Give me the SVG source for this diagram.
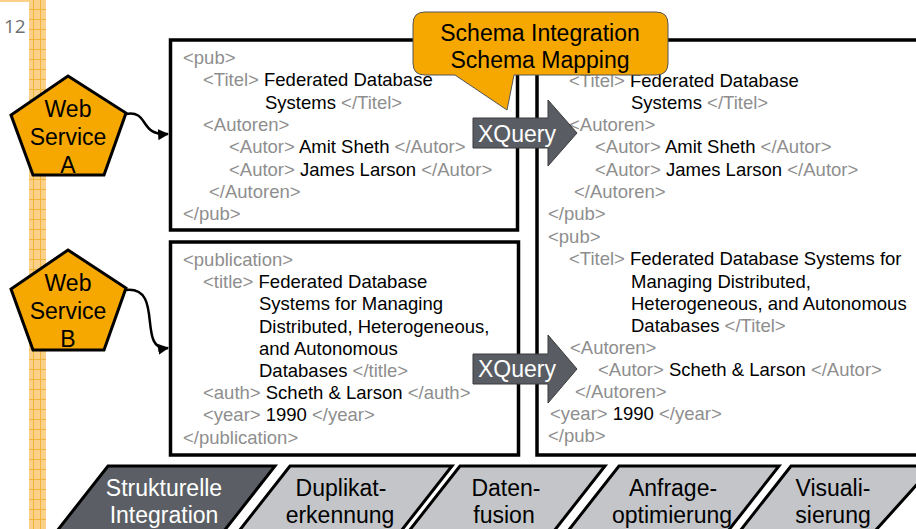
<svg xmlns="http://www.w3.org/2000/svg" width="916" height="529" viewBox="0 0 916 529">
  <defs>
    <style>
      .t { font-family: "Liberation Sans", Arial, sans-serif; font-size: 18.5px; fill: #000; }
      .g { fill: #8e8e8e; }
      .big { font-family: "Liberation Sans", Arial, sans-serif; font-size: 23px; text-anchor: middle; }
      .box { fill: #fff; stroke: #000; stroke-width: 3.5; }
      .penta { fill: #f6a800; stroke: #000; stroke-width: 3; stroke-linejoin: miter; }
      .xq { fill: #595d63; stroke: #3a3a3a; stroke-width: 1; }
      .xqt { fill: #fff; }
      .step { stroke: #000; stroke-width: 3; }
      .step-on { fill: #5b5f65; }
      .step-off { fill: #c3c5c9; }
      .wire { fill: none; stroke: #000; stroke-width: 2.5; }
    </style>
    <pattern id="grid" x="29" y="0" width="17" height="10" patternUnits="userSpaceOnUse">
      <rect width="17" height="10" fill="#fbd189"/>
      <path d="M0,9.5 H17 M4.5,0 V10 M11.5,0 V10" stroke="#f3b43c" stroke-width="1"/>
    </pattern>
    <marker id="head" viewBox="0 0 10 10" refX="9" refY="5" markerWidth="11" markerHeight="11" markerUnits="userSpaceOnUse" orient="auto">
      <path d="M0,0 L10,5 L0,10 Z" fill="#000"/>
    </marker>
  </defs>

  <!-- page margin strip and slide number -->
  <rect x="0" y="0" width="916" height="529" fill="#fff"/>
  <rect x="29" y="0" width="17" height="529" fill="url(#grid)"/>
  <rect x="0" y="0" width="29" height="2" fill="#fbd189"/>
  <text x="4" y="33" style="font-family:'Open Sans',sans-serif;font-size:19px;fill:#707070">12</text>

  <!-- source document A -->
  <g id="docA">
    <rect class="box" x="170.5" y="40" width="347" height="190"/>
    <text class="t" x="183" y="64"><tspan class="g">&lt;pub&gt;</tspan></text>
    <text class="t" x="203" y="86"><tspan class="g">&lt;Titel&gt;</tspan> Federated Database</text>
    <text class="t" x="265" y="109">Systems <tspan class="g">&lt;/Titel&gt;</tspan></text>
    <text class="t" x="203" y="131"><tspan class="g">&lt;Autoren&gt;</tspan></text>
    <text class="t" x="229" y="153"><tspan class="g">&lt;Autor&gt;</tspan> Amit Sheth <tspan class="g">&lt;/Autor&gt;</tspan></text>
    <text class="t" x="229" y="176"><tspan class="g">&lt;Autor&gt;</tspan> James Larson <tspan class="g">&lt;/Autor&gt;</tspan></text>
    <text class="t" x="209" y="198"><tspan class="g">&lt;/Autoren&gt;</tspan></text>
    <text class="t" x="183" y="220"><tspan class="g">&lt;/pub&gt;</tspan></text>
  </g>

  <!-- source document B -->
  <g id="docB">
    <rect class="box" x="170.5" y="242" width="348" height="213"/>
    <text class="t" x="183" y="266"><tspan class="g">&lt;publication&gt;</tspan></text>
    <text class="t" x="203" y="288"><tspan class="g">&lt;title&gt;</tspan> Federated Database</text>
    <text class="t" x="259" y="310">Systems for Managing</text>
    <text class="t" x="259" y="333">Distributed, Heterogeneous,</text>
    <text class="t" x="259" y="355">and Autonomous</text>
    <text class="t" x="259" y="377">Databases <tspan class="g">&lt;/title&gt;</tspan></text>
    <text class="t" x="203" y="399"><tspan class="g">&lt;auth&gt;</tspan> Scheth &amp; Larson <tspan class="g">&lt;/auth&gt;</tspan></text>
    <text class="t" x="203" y="421"><tspan class="g">&lt;year&gt;</tspan> 1990 <tspan class="g">&lt;/year&gt;</tspan></text>
    <text class="t" x="183" y="444"><tspan class="g">&lt;/publication&gt;</tspan></text>
  </g>

  <!-- integrated result document -->
  <g id="result">
    <rect class="box" x="537" y="40" width="400" height="415"/>
    <text class="t" x="569" y="87"><tspan class="g">&lt;Titel&gt;</tspan> Federated Database</text>
    <text class="t" x="631" y="109">Systems <tspan class="g">&lt;/Titel&gt;</tspan></text>
    <text class="t" x="569" y="131"><tspan class="g">&lt;Autoren&gt;</tspan></text>
    <text class="t" x="595" y="153"><tspan class="g">&lt;Autor&gt;</tspan> Amit Sheth <tspan class="g">&lt;/Autor&gt;</tspan></text>
    <text class="t" x="595" y="176"><tspan class="g">&lt;Autor&gt;</tspan> James Larson <tspan class="g">&lt;/Autor&gt;</tspan></text>
    <text class="t" x="574" y="198"><tspan class="g">&lt;/Autoren&gt;</tspan></text>
    <text class="t" x="548" y="220"><tspan class="g">&lt;/pub&gt;</tspan></text>
    <text class="t" x="548" y="243"><tspan class="g">&lt;pub&gt;</tspan></text>
    <text class="t" x="569" y="265"><tspan class="g">&lt;Titel&gt;</tspan> Federated Database Systems for</text>
    <text class="t" x="631" y="288">Managing Distributed,</text>
    <text class="t" x="631" y="310">Heterogeneous, and Autonomous</text>
    <text class="t" x="631" y="332">Databases <tspan class="g">&lt;/Titel&gt;</tspan></text>
    <text class="t" x="570" y="354"><tspan class="g">&lt;Autoren&gt;</tspan></text>
    <text class="t" x="598" y="376"><tspan class="g">&lt;Autor&gt;</tspan> Scheth &amp; Larson <tspan class="g">&lt;/Autor&gt;</tspan></text>
    <text class="t" x="575" y="398"><tspan class="g">&lt;/Autoren&gt;</tspan></text>
    <text class="t" x="550" y="420"><tspan class="g">&lt;year&gt;</tspan> 1990 <tspan class="g">&lt;/year&gt;</tspan></text>
    <text class="t" x="548" y="442"><tspan class="g">&lt;/pub&gt;</tspan></text>
  </g>

  <!-- web services -->
  <g id="wsA">
    <polygon class="penta" points="68,76 126,113 104,175 33,175 11,115"/>
    <text class="big" x="68" y="117">Web</text>
    <text class="big" x="68" y="145">Service</text>
    <text class="big" x="68" y="173">A</text>
  </g>
  <g id="wsB">
    <polygon class="penta" points="68,250 126,288 104,350 33,350 11,289"/>
    <text class="big" x="68" y="291">Web</text>
    <text class="big" x="68" y="319">Service</text>
    <text class="big" x="68" y="347">B</text>
  </g>

  <!-- connectors -->
  <g id="connectors">
    <path class="wire" d="M126,114 C150,110 138,136 168,134" marker-end="url(#head)"/>
    <path class="wire" d="M126,290 C165,286 136,352 168,348" marker-end="url(#head)"/>
  </g>

  <!-- XQuery transformation arrows -->
  <g id="xquery1">
    <polygon class="xq" points="473,118 548,118 548,100 577,133 548,166 548,148 473,148"/>
    <text class="big xqt" x="517" y="142">XQuery</text>
  </g>
  <g id="xquery2">
    <polygon class="xq" points="473,354 548,354 548,335 577,369 548,403 548,384 473,384"/>
    <text class="big xqt" x="517" y="377">XQuery</text>
  </g>

  <!-- callout -->
  <g id="callout">
    <path d="M425,12 H656 Q668,12 668,24 V63 Q668,75 656,75 H514 L507,110 L455,75 H425 Q413,75 413,63 V24 Q413,12 425,12 Z" fill="#f6a700" stroke="#555" stroke-width="1"/>
    <text class="big" x="540" y="41">Schema Integration</text>
    <text class="big" x="540" y="68">Schema Mapping</text>
  </g>

  <!-- process steps -->
  <g id="step1">
    <polygon class="step step-on" points="108,466 275,466 224,531 57,531"/>
    <text class="big" x="164" y="496" fill="#fff">Strukturelle</text>
    <text class="big" x="164" y="523" fill="#fff">Integration</text>
  </g>
  <g id="step2">
    <polygon class="step step-off" points="290,466 452,466 401,531 239,531"/>
    <text class="big" x="341" y="496">Duplikat-</text>
    <text class="big" x="340" y="523">erkennung</text>
  </g>
  <g id="step3">
    <polygon class="step step-off" points="460,466 605,466 554,531 409,531"/>
    <text class="big" x="506" y="496">Daten-</text>
    <text class="big" x="504" y="523">fusion</text>
  </g>
  <g id="step4">
    <polygon class="step step-off" points="619,466 779,466 728,531 568,531"/>
    <text class="big" x="673" y="496">Anfrage-</text>
    <text class="big" x="672" y="523">optimierung</text>
  </g>
  <g id="step5">
    <polygon class="step step-off" points="791,466 930,466 930,470 875,531 740,531"/>
    <text class="big" x="833" y="496">Visuali-</text>
    <text class="big" x="833" y="523">sierung</text>
  </g>
</svg>
